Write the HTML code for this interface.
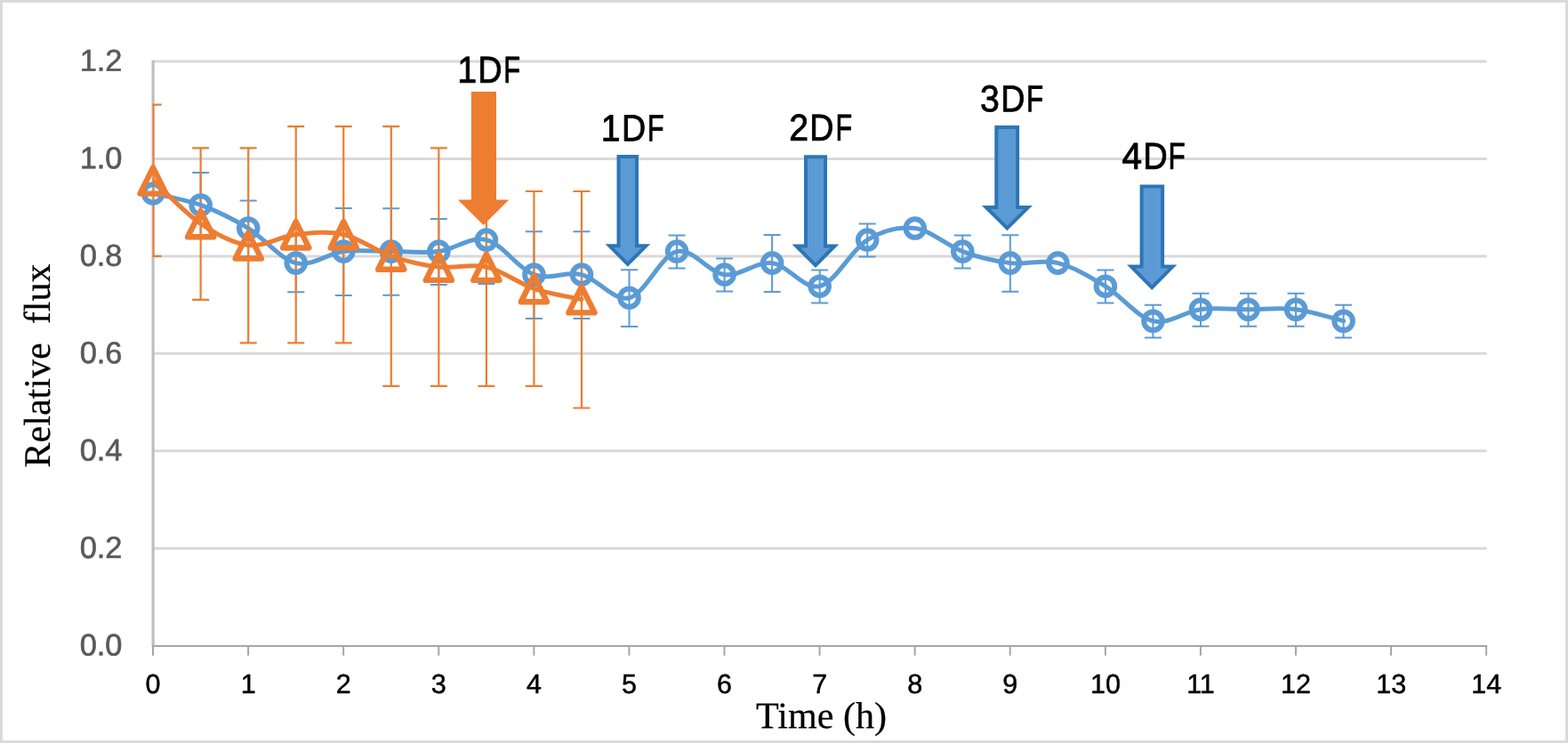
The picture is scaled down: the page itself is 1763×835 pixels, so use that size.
<!DOCTYPE html>
<html lang="en">
<head>
<meta charset="utf-8">
<title>Relative flux vs Time (h)</title>
<style>
html,body{margin:0;padding:0;background:#ffffff;}
body{width:1763px;height:835px;overflow:hidden;}
svg{display:block;}
</style>
</head>
<body>
<svg width="1763" height="835" viewBox="0 0 1763 835" role="img" aria-label="Relative flux versus time chart">
<rect x="0" y="0" width="1763" height="835" fill="#ffffff"/>
<rect x="1.4" y="1.4" width="1760.2" height="832.2" fill="none" stroke="#d9d9d9" stroke-width="2.8"/>
<g stroke="#d9d9d9" stroke-width="3" fill="none">
<line x1="172" y1="616.25" x2="1671.6" y2="616.25"/>
<line x1="172" y1="506.8" x2="1671.6" y2="506.8"/>
<line x1="172" y1="397.35" x2="1671.6" y2="397.35"/>
<line x1="172" y1="287.9" x2="1671.6" y2="287.9"/>
<line x1="172" y1="178.45" x2="1671.6" y2="178.45"/>
<line x1="172" y1="69" x2="1671.6" y2="69"/>
</g>
<line x1="172.1" y1="67.8" x2="172.1" y2="726.7" stroke="#bfbfbf" stroke-width="3.2"/>
<g stroke="#a6a6a6" stroke-width="2" fill="none">
<line x1="171" y1="725.9" x2="1672.2" y2="725.9"/>
<line x1="172" y1="725.9" x2="172" y2="736.7"/>
<line x1="279.08" y1="725.9" x2="279.08" y2="736.7"/>
<line x1="386.16" y1="725.9" x2="386.16" y2="736.7"/>
<line x1="493.24" y1="725.9" x2="493.24" y2="736.7"/>
<line x1="600.32" y1="725.9" x2="600.32" y2="736.7"/>
<line x1="707.4" y1="725.9" x2="707.4" y2="736.7"/>
<line x1="814.48" y1="725.9" x2="814.48" y2="736.7"/>
<line x1="921.56" y1="725.9" x2="921.56" y2="736.7"/>
<line x1="1028.64" y1="725.9" x2="1028.64" y2="736.7"/>
<line x1="1135.72" y1="725.9" x2="1135.72" y2="736.7"/>
<line x1="1242.8" y1="725.9" x2="1242.8" y2="736.7"/>
<line x1="1349.88" y1="725.9" x2="1349.88" y2="736.7"/>
<line x1="1456.96" y1="725.9" x2="1456.96" y2="736.7"/>
<line x1="1564.04" y1="725.9" x2="1564.04" y2="736.7"/>
<line x1="1671.12" y1="725.9" x2="1671.12" y2="736.7"/>
</g>
<g font-family="'Liberation Sans', sans-serif" font-size="34.4" fill="#595959" stroke="#595959" stroke-width="0.6" stroke-linejoin="round" text-anchor="end">
<text transform="translate(137.5,736.5) rotate(0.04)">0.0</text>
<text transform="translate(137.5,627.05) rotate(0.04)">0.2</text>
<text transform="translate(137.5,517.6) rotate(0.04)">0.4</text>
<text transform="translate(137.5,408.15) rotate(0.04)">0.6</text>
<text transform="translate(137.5,298.7) rotate(0.04)">0.8</text>
<text transform="translate(137.5,189.25) rotate(0.04)">1.0</text>
<text transform="translate(137.5,79.8) rotate(0.04)">1.2</text>
</g>
<g font-family="'Liberation Sans', sans-serif" font-size="30.5" fill="#000000" stroke="#000000" stroke-width="0.5" stroke-linejoin="round" text-anchor="middle">
<text transform="translate(172.1,779.0) rotate(0.04)">0</text>
<text transform="translate(279.18,779.0) rotate(0.04)">1</text>
<text transform="translate(386.26,779.0) rotate(0.04)">2</text>
<text transform="translate(493.34,779.0) rotate(0.04)">3</text>
<text transform="translate(600.42,779.0) rotate(0.04)">4</text>
<text transform="translate(707.5,779.0) rotate(0.04)">5</text>
<text transform="translate(814.58,779.0) rotate(0.04)">6</text>
<text transform="translate(921.66,779.0) rotate(0.04)">7</text>
<text transform="translate(1028.74,779.0) rotate(0.04)">8</text>
<text transform="translate(1135.82,779.0) rotate(0.04)">9</text>
<text transform="translate(1242.9,779.0) rotate(0.04)">10</text>
<text transform="translate(1349.98,779.0) rotate(0.04)">11</text>
<text transform="translate(1457.06,779.0) rotate(0.04)">12</text>
<text transform="translate(1564.14,779.0) rotate(0.04)">13</text>
<text transform="translate(1671.22,779.0) rotate(0.04)">14</text>
</g>
<text transform="translate(923.6,818.25) rotate(0.04)" font-family="'Liberation Serif', serif" font-size="42.1" fill="#000" stroke="#000" stroke-width="0.25" text-anchor="middle">Time (h)</text>
<text transform="translate(56.0,411) rotate(-89.96)" font-family="'Liberation Serif', serif" font-size="42.1" fill="#000" stroke="#000" stroke-width="0.25" text-anchor="middle" xml:space="preserve" style="white-space:pre">Relative  flux</text>
<defs><clipPath id="pa"><rect x="171.4" y="60" width="1502" height="667"/></clipPath></defs>
<g fill="none" stroke="#5b9bd5" stroke-width="2">
<path d="M216.14,194.07 H235.14 M225.64,194.07 V267.67 M216.14,267.67 H235.14"/>
<path d="M269.68,225.53 H288.68 M279.18,225.53 V288.33 M269.68,288.33 H288.68"/>
<path d="M323.22,263.82 H342.22 M332.72,263.82 V328.22 M323.22,328.22 H342.22"/>
<path d="M376.76,234.09 H395.76 M386.26,234.09 V331.89 M376.76,331.89 H395.76"/>
<path d="M430.3,234.19 H449.3 M439.8,234.19 V331.79 M430.3,331.79 H449.3"/>
<path d="M483.84,246.09 H502.84 M493.34,246.09 V319.89 M483.84,319.89 H502.84"/>
<path d="M537.38,220.96 H556.38 M546.88,220.96 V318.96 M537.38,318.96 H556.38"/>
<path d="M590.92,260.15 H609.92 M600.42,260.15 V357.95 M590.92,357.95 H609.92"/>
<path d="M644.46,260.15 H663.46 M653.96,260.15 V357.95 M644.46,357.95 H663.46"/>
<path d="M698,303.21 H717 M707.5,303.21 V367.01 M698,367.01 H717"/>
<path d="M751.54,264.59 H770.54 M761.04,264.59 V301.39 M751.54,301.39 H770.54"/>
<path d="M805.08,290.55 H824.08 M814.58,290.55 V327.55 M805.08,327.55 H824.08"/>
<path d="M858.62,264.12 H877.62 M868.12,264.12 V327.92 M858.62,327.92 H877.62"/>
<path d="M912.16,303.58 H931.16 M921.66,303.58 V340.58 M912.16,340.58 H931.16"/>
<path d="M965.7,251.46 H984.7 M975.2,251.46 V288.46 M965.7,288.46 H984.7"/>
<path d="M1072.78,264.59 H1091.78 M1082.28,264.59 V301.39 M1072.78,301.39 H1091.78"/>
<path d="M1126.32,264.22 H1145.32 M1135.82,264.22 V327.82 M1126.32,327.82 H1145.32"/>
<path d="M1233.4,303.58 H1252.4 M1242.9,303.58 V340.58 M1233.4,340.58 H1252.4"/>
<path d="M1286.94,342.77 H1305.94 M1296.44,342.77 V379.57 M1286.94,379.57 H1305.94"/>
<path d="M1340.48,329.64 H1359.48 M1349.98,329.64 V366.64 M1340.48,366.64 H1359.48"/>
<path d="M1394.02,329.64 H1413.02 M1403.52,329.64 V366.64 M1394.02,366.64 H1413.02"/>
<path d="M1447.56,329.64 H1466.56 M1457.06,329.64 V366.64 M1447.56,366.64 H1466.56"/>
<path d="M1501.1,342.77 H1520.1 M1510.6,342.77 V379.57 M1501.1,379.57 H1520.1"/>
</g>
<g fill="none" stroke="#ed7d31" stroke-width="2.2" clip-path="url(#pa)">
<path d="M172.45,117.6 V287.9" stroke-width="2.1"/>
<path d="M162.6,117.6 H181.6 M162.6,287.9 H181.6"/>
<path d="M216.14,166.4 H235.14 M225.64,166.4 V336.8 M216.14,336.8 H235.14"/>
<path d="M269.68,166.4 H288.68 M279.18,166.4 V385.4 M269.68,385.4 H288.68"/>
<path d="M323.22,142.1 H342.22 M332.72,142.1 V385.4 M323.22,385.4 H342.22"/>
<path d="M376.76,142.1 H395.76 M386.26,142.1 V385.4 M376.76,385.4 H395.76"/>
<path d="M430.3,142.1 H449.3 M439.8,142.1 V433.9 M430.3,433.9 H449.3"/>
<path d="M483.84,166.4 H502.84 M493.34,166.4 V433.9 M483.84,433.9 H502.84"/>
<path d="M537.38,166.7 H556.38 M546.88,166.7 V433.9 M537.38,433.9 H556.38"/>
<path d="M590.92,215 H609.92 M600.42,215 V433.9 M590.92,433.9 H609.92"/>
<path d="M644.46,215 H663.46 M653.96,215 V458.5 M644.46,458.5 H663.46"/>
</g>
<g fill="none" stroke="#5b9bd5">
<path d="M172.1,217.44 C181.02,219.61 207.79,223.95 225.64,230.47 C243.49,236.98 261.33,245.67 279.18,256.53 C297.03,267.39 314.87,291.27 332.72,295.62 C350.57,299.96 368.41,284.76 386.26,282.59 C404.11,280.42 421.95,282.59 439.8,282.59 C457.65,282.59 475.49,284.76 493.34,282.59 C511.19,280.42 529.03,265.22 546.88,269.56 C564.73,273.9 582.57,302.13 600.42,308.65 C618.27,315.16 636.11,304.3 653.96,308.65 C671.81,312.99 689.65,339.05 707.5,334.71 C725.35,330.36 743.19,286.93 761.04,282.59 C778.89,278.24 796.73,306.48 814.58,308.65 C832.43,310.82 850.27,293.45 868.12,295.62 C885.97,297.79 903.81,326.02 921.66,321.68 C939.51,317.33 957.35,280.42 975.2,269.56 C993.05,258.7 1010.89,254.36 1028.74,256.53 C1046.59,258.7 1064.43,276.07 1082.28,282.59 C1100.13,289.1 1117.97,293.45 1135.82,295.62 C1153.67,297.79 1171.51,291.27 1189.36,295.62 C1207.21,299.96 1225.05,310.82 1242.9,321.68 C1260.75,332.54 1278.59,356.42 1296.44,360.77 C1314.29,365.11 1332.13,349.91 1349.98,347.74 C1367.83,345.57 1385.67,347.74 1403.52,347.74 C1421.37,347.74 1439.21,345.57 1457.06,347.74 C1474.91,349.91 1501.68,358.6 1510.6,360.77" stroke-width="5" stroke-linecap="round" stroke-linejoin="round" clip-path="url(#pa)"/>
<g stroke-width="6">
<circle cx="172.1" cy="217.44" r="10.3"/>
<circle cx="225.64" cy="230.47" r="10.3"/>
<circle cx="279.18" cy="256.53" r="10.3"/>
<circle cx="332.72" cy="295.62" r="10.3"/>
<circle cx="386.26" cy="282.59" r="10.3"/>
<circle cx="439.8" cy="282.59" r="10.3"/>
<circle cx="493.34" cy="282.59" r="10.3"/>
<circle cx="546.88" cy="269.56" r="10.3"/>
<circle cx="600.42" cy="308.65" r="10.3"/>
<circle cx="653.96" cy="308.65" r="10.3"/>
<circle cx="707.5" cy="334.71" r="10.3"/>
<circle cx="761.04" cy="282.59" r="10.3"/>
<circle cx="814.58" cy="308.65" r="10.3"/>
<circle cx="868.12" cy="295.62" r="10.3"/>
<circle cx="921.66" cy="321.68" r="10.3"/>
<circle cx="975.2" cy="269.56" r="10.3"/>
<circle cx="1028.74" cy="256.53" r="10.3"/>
<circle cx="1082.28" cy="282.59" r="10.3"/>
<circle cx="1135.82" cy="295.62" r="10.3"/>
<circle cx="1189.36" cy="295.62" r="10.3"/>
<circle cx="1242.9" cy="321.68" r="10.3"/>
<circle cx="1296.44" cy="360.77" r="10.3"/>
<circle cx="1349.98" cy="347.74" r="10.3"/>
<circle cx="1403.52" cy="347.74" r="10.3"/>
<circle cx="1457.06" cy="347.74" r="10.3"/>
<circle cx="1510.6" cy="360.77" r="10.3"/>
</g>
</g>
<g fill="none" stroke="#ed7d31">
<path d="M172.1,202.67 C181.02,210.78 207.79,239.16 225.64,251.32 C243.49,263.48 261.33,273.61 279.18,275.64 C297.03,277.67 314.87,265.5 332.72,263.48 C350.57,261.45 368.41,259.42 386.26,263.48 C404.11,267.53 421.95,281.72 439.8,287.8 C457.65,293.88 475.49,297.93 493.34,299.96 C511.19,301.99 529.03,295.91 546.88,299.96 C564.73,304.01 582.57,318.2 600.42,324.28 C618.27,330.36 645.04,334.42 653.96,336.44" stroke-width="5" stroke-linecap="round" stroke-linejoin="round" clip-path="url(#pa)"/>
<g stroke-width="6.4" stroke-linejoin="round">
<path d="M172.1,188.42 L186.7,217.62 L157.5,217.62 Z"/>
<path d="M225.64,237.07 L240.24,266.27 L211.04,266.27 Z"/>
<path d="M279.18,261.39 L293.78,290.59 L264.58,290.59 Z"/>
<path d="M332.72,249.23 L347.32,278.43 L318.12,278.43 Z"/>
<path d="M386.26,249.23 L400.86,278.43 L371.66,278.43 Z"/>
<path d="M439.8,273.55 L454.4,302.75 L425.2,302.75 Z"/>
<path d="M493.34,285.71 L507.94,314.91 L478.74,314.91 Z"/>
<path d="M546.88,285.71 L561.48,314.91 L532.28,314.91 Z"/>
<path d="M600.42,310.03 L615.02,339.23 L585.82,339.23 Z"/>
<path d="M653.96,322.19 L668.56,351.39 L639.36,351.39 Z"/>
</g>
</g>
<polygon points="530.8,103.9 557,103.9 557,225.4 569.79,225.4 543.6,251.69 517.31,225.4 530.8,225.4" fill="#ed7d31" stroke="#ed7d31" stroke-width="2" stroke-linejoin="miter"/>
<polygon points="695.5,175.9 716,175.9 716,276.3 726.37,276.3 705.8,296.87 685.33,276.3 695.5,276.3" fill="#5b9bd5" stroke="#2e75b6" stroke-width="4" stroke-linejoin="miter"/>
<polygon points="906,176.3 928,176.3 928,276.5 938.57,276.5 917,298.07 895.33,276.5 906,276.5" fill="#5b9bd5" stroke="#2e75b6" stroke-width="4" stroke-linejoin="miter"/>
<polygon points="1120.3,142.9 1144.1,142.9 1144.1,233 1156.07,233 1132.4,256.37 1108.73,233 1120.3,233" fill="#5b9bd5" stroke="#2e75b6" stroke-width="4" stroke-linejoin="miter"/>
<polygon points="1283.6,209.4 1307.1,209.4 1307.1,299.6 1318.57,299.6 1295.2,323.27 1271.83,299.6 1283.6,299.6" fill="#5b9bd5" stroke="#2e75b6" stroke-width="4" stroke-linejoin="miter"/>
<g font-family="'Liberation Sans', sans-serif" font-size="42" fill="#000000" stroke="#000000" stroke-width="0.9" stroke-linejoin="round">
<text transform="translate(514.35,92.65) rotate(0.04)"><tspan x="0" textLength="21.93" lengthAdjust="spacingAndGlyphs">1</tspan><tspan x="22.89" textLength="27.26" lengthAdjust="spacingAndGlyphs">D</tspan><tspan x="51.99" textLength="18.79" lengthAdjust="spacingAndGlyphs">F</tspan></text>
<text transform="translate(675.77,158.15) rotate(0.04)"><tspan x="0" textLength="21.72" lengthAdjust="spacingAndGlyphs">1</tspan><tspan x="23.17" textLength="27.13" lengthAdjust="spacingAndGlyphs">D</tspan><tspan x="52.02" textLength="18.83" lengthAdjust="spacingAndGlyphs">F</tspan></text>
<text transform="translate(887.13,157.65) rotate(0.04)"><tspan x="0" textLength="21.84" lengthAdjust="spacingAndGlyphs">2</tspan><tspan x="23.13" textLength="27.15" lengthAdjust="spacingAndGlyphs">D</tspan><tspan x="52.25" textLength="18.67" lengthAdjust="spacingAndGlyphs">F</tspan></text>
<text transform="translate(1101.89,125.15) rotate(0.04)"><tspan x="0" textLength="21.78" lengthAdjust="spacingAndGlyphs">3</tspan><tspan x="23.39" textLength="27.13" lengthAdjust="spacingAndGlyphs">D</tspan><tspan x="52.04" textLength="19.07" lengthAdjust="spacingAndGlyphs">F</tspan></text>
<text transform="translate(1261.52,189.75) rotate(0.04)"><tspan x="0" textLength="22.56" lengthAdjust="spacingAndGlyphs">4</tspan><tspan x="23.68" textLength="27.48" lengthAdjust="spacingAndGlyphs">D</tspan><tspan x="51.96" textLength="19.21" lengthAdjust="spacingAndGlyphs">F</tspan></text>
</g>
</svg>
</body>
</html>
